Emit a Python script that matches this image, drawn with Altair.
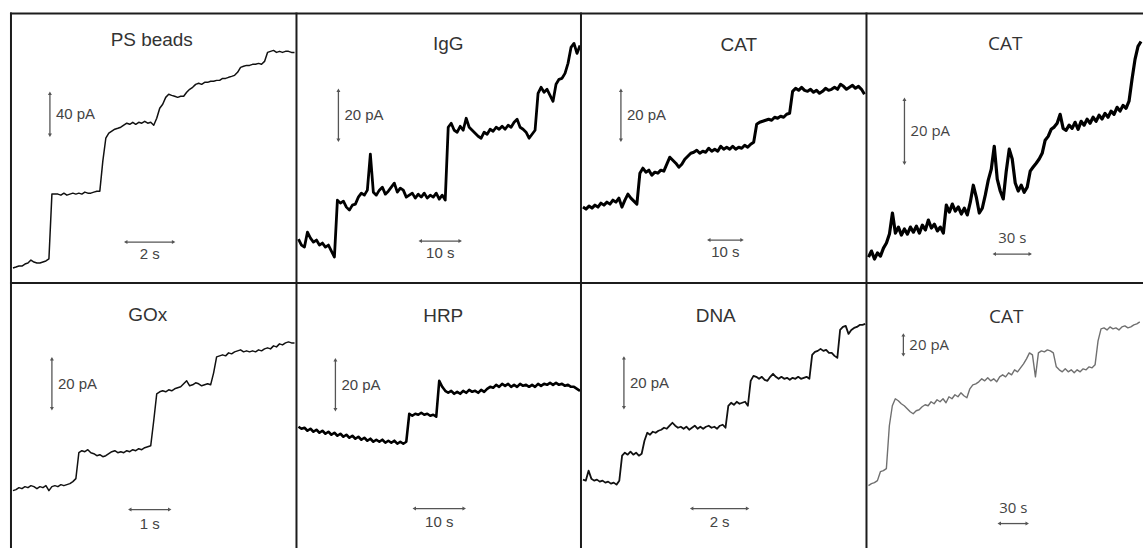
import altair as alt
import pandas as pd

# Current traces in pA, each sampled at a fixed interval (see PANELS)
ps_beads_pA = [14.3, 15.2, 16.2, 16.2, 18.1, 19.0, 21.9, 20.0, 19.0, 19.0, 20.0, 21.0, 22.9,
               84.8, 84.8, 84.8, 83.8, 85.7, 83.8, 84.8, 85.7, 84.8, 85.7, 84.8, 86.7, 85.7, 85.7, 86.7, 87.6, 87.6,
               116.2, 138.1, 142.9, 144.8, 146.7, 147.6, 148.6, 150.5, 152.4, 151.4, 153.3, 151.4, 153.3, 152.4,
               154.3, 152.4, 153.3, 150.5,
               157.1, 166.7, 170.5, 177.1, 180.0, 179.0, 178.1, 177.1, 178.1, 178.1,
               181.9, 184.8, 186.7, 189.5, 190.5, 189.5, 191.4, 191.4, 192.4, 192.4, 193.3, 193.3, 195.2, 195.2,
               196.2, 197.1, 198.1,
               201.0, 205.7, 206.7, 207.6, 207.6, 208.6, 208.6, 209.5, 208.6, 211.4,
               220.0, 221.0, 221.9, 220.0, 221.0, 220.0, 221.0, 221.0, 220.0, 220.0]

igg_pA = [17.6, 15.2, 14.4, 20.4, 18.0, 16.4, 17.2, 15.2, 16.0, 14.4, 15.2, 12.8, 10.4,
          33.2, 32.0, 32.8, 30.4, 29.2, 31.2, 31.6, 34.4, 36.0, 35.2, 37.2, 51.6, 36.4, 35.2, 37.2, 38.4, 35.6,
          36.8, 38.4, 40.0, 36.4, 38.0, 37.2, 34.4, 35.2, 36.0, 34.0, 35.6, 34.4, 36.0, 34.0, 35.2, 34.4, 36.0,
          33.6, 35.2, 33.2,
          62.4, 64.0, 61.2, 60.4, 62.8, 61.2, 66.0, 62.4, 61.2, 60.0, 58.8, 58.0, 60.4, 59.6, 61.6, 60.8, 62.4,
          61.6, 62.8, 61.6, 63.2, 62.4, 64.4, 65.6, 62.4, 61.6, 60.4, 58.0, 59.6, 61.2,
          76.0, 78.4, 76.4, 77.6, 75.2, 72.8, 79.6, 81.6, 82.0, 84.0, 88.0, 94.4, 96.0, 92.0, 95.2]

cat_a_pA = [30.4, 29.6, 30.8, 30.0, 31.2, 30.4, 32.0, 31.2, 32.4, 31.6, 33.2, 32.4, 34.0, 30.4, 33.2, 35.6,
            34.0, 32.8, 31.6,
            44.0, 46.0, 44.4, 45.2, 43.2, 44.4, 44.0, 45.2, 44.8, 47.6, 50.4, 49.2, 48.0, 46.4, 47.6, 49.6, 50.8,
            52.0, 52.4, 53.2, 52.0, 52.8, 52.4, 54.0, 52.8, 53.6, 52.8, 54.8, 53.6, 54.4, 53.6, 54.8, 53.6, 54.4,
            54.0, 55.2, 54.4, 55.6, 56.4,
            63.6, 64.4, 64.8, 65.2, 65.6, 65.2, 66.4, 66.0, 66.8, 66.4, 67.6, 68.0,
            76.8, 78.0, 77.2, 78.4, 77.2, 76.8, 77.6, 76.4, 77.2, 76.0, 76.8, 78.0, 77.2, 77.6, 78.4, 77.6, 79.6,
            78.8, 77.6, 78.4, 79.2, 78.0, 78.8, 77.6, 75.6]

cat_b_pA = [8.1, 10.0, 7.5, 9.4, 8.4, 10.9, 12.5, 15.3, 21.9, 15.6, 17.5, 15.0, 16.9, 15.3, 17.5, 15.9, 17.8,
            15.6, 18.1, 16.6, 19.7, 17.2, 18.4, 16.3, 17.5, 15.6,
            24.4, 22.2, 24.7, 22.5, 23.8, 21.6, 23.4, 21.3, 25.3, 30.6, 26.9, 21.9, 23.4, 27.5, 32.2, 35.6, 42.8,
            32.5, 28.8, 26.3, 35.0, 41.9, 38.8, 31.3, 28.8, 30.6, 28.4, 30.0, 35.0, 36.3, 37.5, 38.8, 40.6, 44.7,
            45.9, 48.1, 48.8, 50.0, 52.8, 48.4, 47.8, 49.4, 48.4, 50.3, 48.1, 50.6, 49.4, 51.3, 50.0, 51.9, 50.6,
            52.5, 51.3, 53.1, 51.9, 53.8, 52.8, 55.0, 53.8, 55.6, 54.7, 56.9,
            63.8, 70.0, 74.1, 75.6]

gox_pA = [23.2, 23.6, 24.4, 24.0, 24.8, 24.4, 25.2, 24.8, 24.0, 24.8, 24.4, 25.2, 23.2, 24.8, 25.2, 24.8, 25.6,
          25.2, 25.6, 26.0, 26.8, 28.0,
          38.4, 39.2, 38.8, 39.6, 38.4, 38.0, 37.2, 37.6, 36.8, 37.2, 38.0, 38.8, 39.2, 38.4, 38.8, 38.4, 39.2,
          38.8, 39.6, 39.2, 40.0, 39.6, 40.4, 40.8, 41.2,
          51.2, 62.0, 62.8, 63.2, 62.8, 63.6, 63.2, 64.0, 64.4, 64.8, 66.0, 67.2, 65.2, 65.6, 66.4, 66.0, 65.2,
          65.6, 66.0, 65.6,
          70.4, 76.8, 77.2, 77.6, 77.2, 78.4, 78.0, 78.8, 79.2, 79.6, 78.8, 79.2, 78.8, 79.2, 78.8, 79.6, 79.2,
          80.0, 80.4, 80.0, 81.2, 80.8, 82.0, 81.6, 82.4, 82.8, 82.4, 82.4]

hrp_pA = [48.8, 48.0, 48.4, 47.2, 48.0, 46.8, 47.6, 46.4, 47.2, 46.0, 46.8, 45.6, 46.4, 45.2, 46.0, 44.8, 45.6,
          44.4, 45.2, 44.0, 44.8, 43.6, 44.4, 43.2, 44.0, 42.8, 43.6, 42.8, 43.6, 42.4, 43.2, 42.4, 43.2, 42.0,
          42.8, 42.0, 42.8,
          54.0, 53.2, 54.0, 53.6, 54.4, 53.6, 54.0, 53.2, 53.6, 52.8,
          67.2, 64.8, 63.2, 62.4, 63.2, 62.0, 62.8, 62.0, 63.2, 62.4, 63.6, 62.8, 63.2, 62.4, 63.6, 62.8, 64.0,
          64.8, 64.4, 65.6, 64.8, 66.0, 65.2, 66.0, 64.8, 65.6, 64.8, 66.0, 65.2, 65.6, 64.8, 65.6, 64.8, 66.0,
          65.2, 66.0, 65.6, 66.4, 65.6, 66.4, 65.6, 66.0, 65.2, 65.6, 64.8, 64.8, 64.0, 63.2]

dna_pA = [27.6, 27.2, 31.2, 28.0, 27.2, 27.6, 26.8, 27.2, 26.4, 26.8, 26.0, 26.4, 25.6, 27.2,
          37.2, 38.4, 37.6, 38.8, 37.6, 38.4, 37.2, 38.0,
          43.2, 46.4, 45.6, 46.8, 46.4, 47.2, 47.6, 48.4, 48.0, 49.2, 50.4, 49.2, 48.4, 48.8, 48.0, 48.8, 47.6,
          48.4, 49.2, 48.0, 48.8, 48.0, 48.8, 49.2, 48.4, 48.8, 48.0, 49.2, 49.6, 48.4,
          57.2, 58.4, 57.6, 58.8, 58.0, 58.4, 58.8, 57.2,
          67.2, 69.2, 68.8, 68.0, 68.8, 67.6, 67.2, 68.8, 70.0, 68.8, 68.0, 68.8, 68.0, 68.4, 67.6, 68.4, 68.0,
          68.8, 68.0, 68.4, 68.8, 68.0,
          77.6, 78.8, 79.2, 80.0, 79.2, 79.6, 78.4, 78.4, 77.2, 76.4,
          87.6, 88.8, 89.2, 86.0, 87.6, 88.4, 88.8, 89.6, 89.6, 90.0]

cat_c_pA = [63, 65, 66, 68, 77, 78, 80, 123, 143, 150, 148, 145, 143, 140, 137, 135, 138, 139, 142, 144,
            143, 147, 145, 149, 147, 150, 146, 152, 150, 154, 152, 156, 153, 151, 160, 164, 165, 167, 170, 168,
            171, 168, 170, 167, 172, 174, 172, 176, 174, 179, 177, 181, 185, 190, 196, 194, 172, 196, 198, 197,
            199, 198, 196, 182, 179, 177, 180, 177, 179, 176, 179, 177, 180, 179, 182, 181, 184, 208, 220, 221,
            219, 222, 220, 221, 219, 222, 223, 221, 222, 224, 225, 227]

SANS = "Liberation Sans"
OPEN = "Open Sans"
EDGE = "#1c1c1c"
BAR = "#555555"
TEXT = "#444444"

# Per-recording settings: sampling (t0, dt in s), drawing scale (px per s, px per pA),
# scale bars as (time, current, length) in data units; edge = inset of the left/top frame lines.
PANELS = [
    dict(title="PS beads", trace=ps_beads_pA, t0=0.125, dt=0.125, px_s=24, px_pA=1.05, w=287, h=271,
         vbar=(1.667, 141, 40), vlabel="40 pA", hbar=(4.83, 39, 2), hlabel="2 s", hdy=12,
         title_xy=(142, 34), font=SANS, color="#111111", lw=1.5, edge=(1, 1)),
    dict(title="IgG", trace=igg_pA, t0=0.5, dt=0.75, px_s=4, px_pA=2.5, w=285, h=271,
         vbar=(10.5, 57.2, 20), vlabel="20 pA", hbar=(31, 16.8, 10), hlabel="10 s", hdy=12,
         title_xy=(152, 38), font=SANS, color="#000000", lw=2.8, edge=(0, 1)),
    dict(title="CAT", trace=cat_a_pA, t0=0.6, dt=0.9, px_s=10 / 3, px_pA=2.5, w=286, h=271,
         vbar=(12, 57.2, 20), vlabel="20 pA", hbar=(38.4, 17.2, 10), hlabel="10 s", hdy=12,
         title_xy=(158, 39), font=SANS, color="#000000", lw=3.0, edge=(0, 1)),
    dict(title="CAT", trace=cat_b_pA, t0=1.667, dt=2.5, px_s=1.2, px_pA=3.2, w=277, h=271,
         vbar=(31.7, 37.5, 20), vlabel="20 pA", hbar=(106.7, 9.06, 30), hlabel="30 s", hdy=-16,
         title_xy=(139, 38), font=OPEN, color="#000000", lw=3.2, edge=(0, 1)),
    dict(title="GOx", trace=gox_pA, t0=0.075, dt=0.075, px_s=40, px_pA=2.5, w=287, h=266,
         vbar=(1.05, 56, 20), vlabel="20 pA", hbar=(3.0, 15.6, 1), hlabel="1 s", hdy=14,
         title_xy=(138, 38), font=SANS, color="#111111", lw=1.5, edge=(1, 0)),
    dict(title="HRP", trace=hrp_pA, t0=0.4, dt=0.6, px_s=5, px_pA=2.5, w=285, h=266,
         vbar=(7.8, 55.6, 20), vlabel="20 pA", hbar=(23.6, 16, 10), hlabel="10 s", hdy=13,
         title_xy=(147, 39), font=SANS, color="#000000", lw=2.6, edge=(0, 0)),
    dict(title="DNA", trace=dna_pA, t0=0.071, dt=0.1, px_s=28, px_pA=2.5, w=286, h=266,
         vbar=(1.536, 56.4, 20), vlabel="20 pA", hbar=(3.96, 16, 2), hlabel="2 s", hdy=13,
         title_xy=(135, 39), font=SANS, color="#111111", lw=1.8, edge=(0, 0)),
    dict(title="CAT", trace=cat_c_pA, t0=2.14, dt=3.2, px_s=28 / 30, px_pA=1.0, w=277, h=266,
         vbar=(39.6, 194, 20), vlabel="20 pA", hbar=(142.5, 25, 30), hlabel="30 s", hdy=-16,
         title_xy=(140, 40), font=OPEN, color="#707070", lw=1.4, edge=(0, 0)),
]


def build_panel(p):
    w, h = p["w"], p["h"]
    xsc = alt.Scale(domain=[0, w / p["px_s"]], nice=False, zero=False)
    ysc = alt.Scale(domain=[0, h / p["px_pA"]], nice=False, zero=False)

    def X(f="t"):
        return alt.X(f"{f}:Q", scale=xsc, axis=None)

    def Y(f="I"):
        return alt.Y(f"{f}:Q", scale=ysc, axis=None)

    trace = p["trace"]
    df = pd.DataFrame({"t": [p["t0"] + i * p["dt"] for i in range(len(trace))], "I": trace})
    line = alt.Chart(df).mark_line(color=p["color"], strokeWidth=p["lw"], strokeJoin="round",
                                   clip=True).encode(x=X(), y=Y())

    # vertical scale bar (current)
    vt, vI, vlen = p["vbar"]
    vdf = pd.DataFrame({"t": [vt], "I": [vI], "I2": [vI + vlen], "mid": [vI + vlen / 2],
                        "label": [p["vlabel"]]})
    vrule = alt.Chart(vdf).mark_rule(color=BAR, strokeWidth=1.3).encode(x=X(), y=Y(), y2="I2:Q")
    vheads = alt.Chart(pd.DataFrame({"t": [vt, vt], "I": [vI, vI + vlen],
                                     "shape": ["triangle-down", "triangle-up"]})).mark_point(
        filled=True, size=16, color=BAR, opacity=1).encode(x=X(), y=Y(), shape=alt.Shape("shape:N", scale=None))
    vtext = alt.Chart(vdf).mark_text(align="left", baseline="middle", dx=6, font=p["font"], fontSize=15,
                                     color=TEXT).encode(x=X(), y=Y("mid"), text="label:N")

    # horizontal scale bar (time)
    ht, hI, hlen = p["hbar"]
    hdf = pd.DataFrame({"t": [ht], "t2": [ht + hlen], "mid": [ht + hlen / 2], "I": [hI],
                        "label": [p["hlabel"]]})
    hrule = alt.Chart(hdf).mark_rule(color=BAR, strokeWidth=1.3).encode(x=X(), x2="t2:Q", y=Y())
    hheads = alt.Chart(pd.DataFrame({"t": [ht, ht + hlen], "I": [hI, hI],
                                     "shape": ["triangle-left", "triangle-right"]})).mark_point(
        filled=True, size=16, color=BAR, opacity=1).encode(x=X(), y=Y(), shape=alt.Shape("shape:N", scale=None))
    htext = alt.Chart(hdf).mark_text(align="center", baseline="middle", dy=p["hdy"], font=p["font"],
                                     fontSize=15, color=TEXT).encode(x=X("mid"), y=Y(), text="label:N")

    one = pd.DataFrame({"label": [p["title"]]})
    title = alt.Chart(one).mark_text(align="center", baseline="alphabetic", font=p["font"], fontSize=19,
                                     color="#333333").encode(
        x=alt.value(p["title_xy"][0]), y=alt.value(p["title_xy"][1]), text="label:N")

    ex, ey = p["edge"]
    left_edge = alt.Chart(one).mark_rule(color=EDGE, strokeWidth=2).encode(
        x=alt.value(ex), y=alt.value(0), y2=alt.value(h))
    top_edge = alt.Chart(one).mark_rule(color=EDGE, strokeWidth=2).encode(
        x=alt.value(0), x2=alt.value(w), y=alt.value(ey))

    return alt.layer(line, vrule, vheads, vtext, hrule, hheads, htext, title, left_edge, top_edge).properties(
        width=w, height=h)


chart = alt.concat(*[build_panel(p) for p in PANELS], columns=4, spacing=0, bounds="flush",
                   align="each").properties(
    padding={"left": 9, "top": 11, "right": 0, "bottom": 0},
    background="white",
).configure_view(stroke=None)

chart.save("out.html", embed_options={"renderer": "svg", "actions": False})
